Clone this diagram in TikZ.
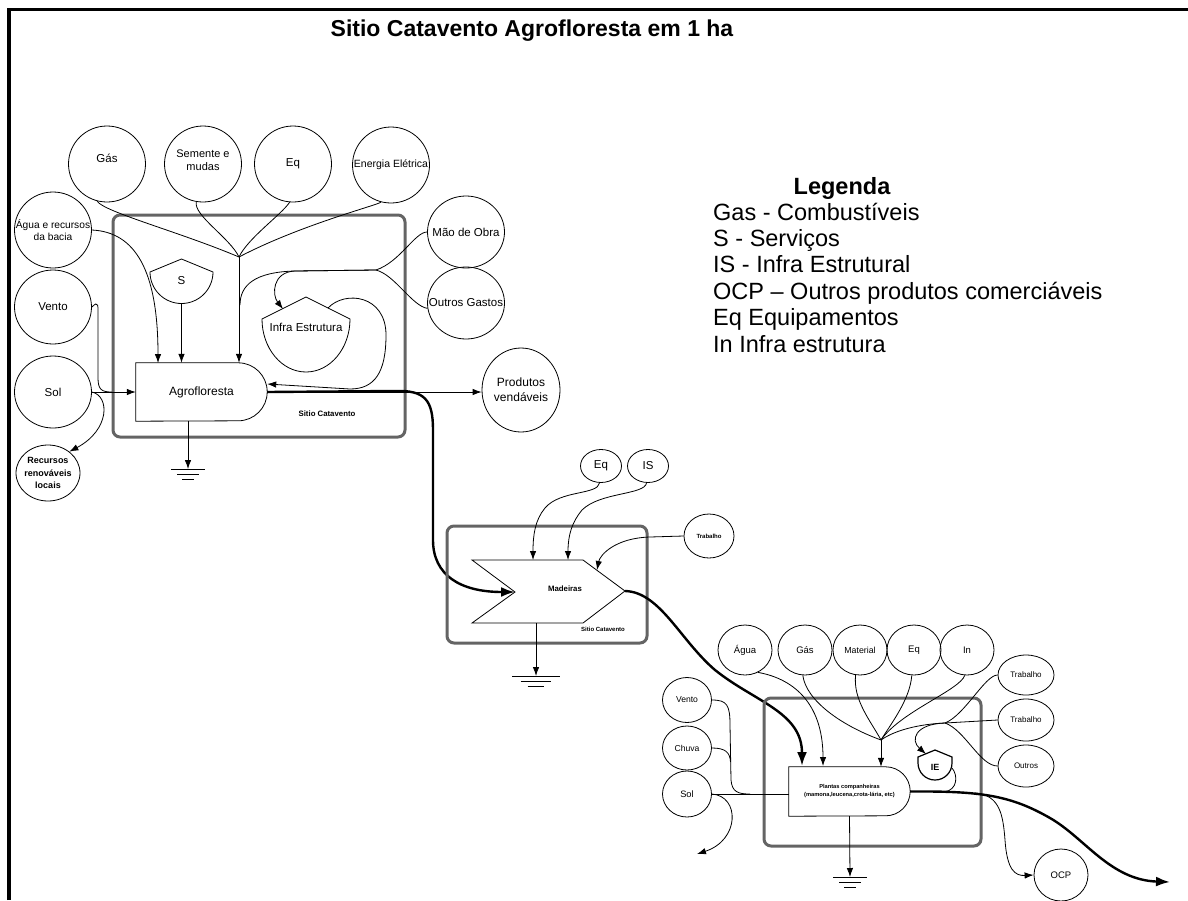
\documentclass[tikz,border=0pt]{standalone}
\usepackage{fontspec}
\setmainfont{Liberation Sans}
\usetikzlibrary{shapes.geometric,arrows.meta,calc}
\definecolor{boxgray}{RGB}{100,100,100}
\newcommand\zt[1]{\makebox[0pt]{#1}}
\tikzset{
  circ/.style={draw, ellipse, inner sep=0pt, line width=0.8pt, align=center, font=\fontsize{11.5}{13}\selectfont},
  cA/.style={circ, minimum width=77pt, minimum height=76pt},
  cB/.style={circ, minimum width=41pt, minimum height=33pt},
  cC/.style={circ, minimum width=54pt, minimum height=50pt, font=\fontsize{9.5}{11}\selectfont},
  cS/.style={circ, minimum width=49pt, minimum height=45pt, font=\fontsize{8.6}{10}\selectfont},
  cR/.style={circ, minimum width=56pt, minimum height=42pt, font=\fontsize{8}{10}\selectfont},
  txt/.style={inner sep=0pt, align=center, font=\fontsize{11.5}{13}\selectfont},
  flow/.style={line width=0.8pt},
  arr/.style={flow, -{Latex[length=9pt,width=6.5pt]}},
  bigflow/.style={line width=2.4pt, -{Latex[length=14pt,width=10pt]}},
  shp/.style={draw, line width=0.8pt},
  sbox/.style={draw=boxgray, line width=3pt, rounded corners=7pt},
  leg/.style={font=\fontsize{23.5}{28}\selectfont, anchor=base west, inner sep=0pt},
  ground/.pic={\draw[line width=0.8pt] (-17,0) -- (17,0) (-11,5) -- (11,5) (-6,10) -- (6,10);}
}
\begin{document}
\begin{tikzpicture}[x=1pt,y=-1pt]
\useasboundingbox (0,0) rectangle (1188,900);
\draw[line width=3.5pt] (9,900) -- (9,9.5) -- (1188,9.5);

% title and legend
\node[font=\fontsize{23}{27}\selectfont\bfseries] (title) at (532,31) {Sitio Catavento Agrofloresta em 1 ha};
\node[font=\fontsize{23.5}{28}\selectfont\bfseries, anchor=base, inner sep=0pt] (legt) at (842,194) {Legenda};
\node[leg] (l1) at (713,220) {Gas - Combustíveis};
\node[leg] (l2) at (713,246.4) {S - Serviços};
\node[leg] (l3) at (713,272.8) {IS - Infra Estrutural};
\node[leg] (l4) at (713,299.2) {OCP – Outros produtos comerciáveis};
\node[leg] (l5) at (713,325.6) {Eq Equipamentos};
\node[leg] (l6) at (713,352) {In Infra estrutura};

% ================= section 1
\draw[sbox] (113,215) rectangle (405,437);
\node[font=\fontsize{7.8}{9}\selectfont\bfseries] (sc1) at (327,414) {Sitio Catavento};

\node[inner sep=0pt, minimum width=131pt, minimum height=58pt, font=\fontsize{12}{14}\selectfont] (agro) at (201.5,392) {Agrofloresta};
\draw[shp] (agro.north west) -- ($(agro.north east)+(-29,0)$) arc[start angle=-90,end angle=90,radius=29] -- (agro.south west) -- cycle;

\draw[shp] (150,272) -- (181.5,259) -- (213,272) arc[start angle=0,end angle=180,radius=31.5] -- cycle;
\node[inner sep=0pt, minimum width=63pt, minimum height=44pt, font=\fontsize{11.5}{13}\selectfont] (sv) at (181.5,281) {S};

\draw[shp] (262,319) -- (306,297) -- (350,319) arc[start angle=0,end angle=180,x radius=44,y radius=53] -- cycle;
\node[inner sep=0pt, font=\fontsize{11.5}{13}\selectfont] (infra) at (306,327) {Infra Estrutura};

\node[cA] (gas1) at (107,164) {};
\node[txt] (gas1t) at (107,158) {Gás};
\node[cA] (sem) at (203,164) {};
\node[txt, font=\fontsize{11}{12.5}\selectfont] (semt) at (203,160) {Semente e\\mudas};
\node[cA] (eq1) at (293,164) {Eq};
\node[cA, font=\fontsize{10.5}{12}\selectfont] (ener) at (391,165) {\zt{Energia Elétrica}};
\node[cA, font=\fontsize{10.2}{12}\selectfont] (agua1) at (53,230) {\zt{Água e recursos}\\\zt{da bacia}};
\node[cA, minimum height=74pt] (vento1) at (53,307) {Vento};
\node[cA, minimum height=72pt] (sol1) at (53,392) {Sol};
\node[circ, minimum width=64pt, minimum height=56pt, font=\fontsize{9}{12.5}\selectfont\bfseries] (rec) at (48,473) {\zt{Recursos}\\\zt{renováveis}\\\zt{locais}};
\node[cA, minimum height=72pt] (mao) at (466,232) {\zt{Mão de Obra}};
\node[cA, minimum height=72pt] (outg) at (466,303) {\zt{Outros Gastos}};
\node[cA, minimum width=78pt, minimum height=84pt, font=\fontsize{12}{15}\selectfont] (prod) at (521,390) {\zt{Produtos}\\\zt{vendáveis}};

\coordinate (J1) at (239,257);
\coordinate (J2) at (376,270);
\coordinate (vm1) at (112,392);

\draw[flow] (gas1.-105) .. controls (104,212) and (180,232) .. (J1);
\draw[flow] (sem.-100) .. controls (193,215) and (230,238) .. (J1);
\draw[flow] (eq1.-95) .. controls (281,215) and (248,238) .. (J1);
\draw[flow] (ener.-105) .. controls (378,205) and (300,225) .. (J1);
\draw[arr] (J1) -- (J1 |- agro.north);
\draw[arr] (agua1.east) .. controls (135,232) and (158,270) .. (158,363);
\draw[arr] (sv.south) -- (sv.south |- agro.north);
\draw[flow] (vento1.east) .. controls (99,300) and (98,305) .. (98,320) -- (98,378) .. controls (98,390) and (102,392) .. (vm1);
\draw[arr] (sol1.east) -- (agro.west);
\draw[arr] (sol1.east) .. controls (110,396) and (110,430) .. (rec.45);
\draw[flow] (mao.west) .. controls (415,232) and (400,262) .. (J2);
\draw[flow] (outg.188) .. controls (412,306) and (395,275) .. (J2);
\draw[flow] (J2) -- (295,271) .. controls (255,272) and (240,285) .. (240,305);
\draw[arr] (J2) -- (295,271) .. controls (272,272) and (272,295) .. (283,309);
\draw[arr] (328,308) .. controls (345,290) and (386,295) .. (386,335) .. controls (386,372) and (375,389) .. (350,389) -- (agro.east |- 0,384);
\draw[arr] (agro.east) -- (agro.east -| prod.west);
\draw[bigflow] (agro.east) -- (395,391) .. controls (425,390) and (433,400) .. (433,430) -- (433,540) .. controls (433,575) and (460,592) .. (515,592);
\draw[arr] (agro.south -| 188,0) -- (188,469);
\pic at (188,469) {ground};

% ================= section 2
\draw[sbox] (447,526) rectangle (647,643);
\node[font=\fontsize{6}{7}\selectfont\bfseries] (sc2) at (603,629) {Sitio Catavento};
\coordinate (madTip) at (625,591);
\coordinate (madNotch) at (515,592);
\draw[shp] (472,560) -- (583,560) -- (madTip) -- (583,623) -- (472,623) -- (madNotch) -- cycle;
\node[font=\fontsize{7.8}{9}\selectfont\bfseries] (madt) at (565,589) {Madeiras};

\node[cB] (eq2) at (601,466) {Eq};
\node[cB] (is2) at (648,466) {IS};
\node[circ, minimum width=50pt, minimum height=44pt, font=\fontsize{6}{7}\selectfont\bfseries] (trab2) at (709,536) {Trabalho};

\draw[arr] (eq2.-95) .. controls (598,495) and (560,490) .. (545,508) .. controls (535,520) and (533,535) .. (533,560);
\draw[arr] (is2.-95) .. controls (645,495) and (600,492) .. (582,510) .. controls (572,522) and (568,535) .. (568,560);
\draw[arr] (trab2.west) -- (650,537) .. controls (615,538) and (600,555) .. (597,570);
\draw[arr] (536,623) -- (536,676);
\pic[xscale=1.4] at (536,676) {ground};
\draw[bigflow] (madTip) .. controls (660,592) and (680,640) .. (715,670) .. controls (755,702) and (802,712) .. (802,766);

% ================= section 3
\draw[sbox] (764,698) rectangle (981,846);
\node[inner sep=0pt, minimum width=121pt, minimum height=49pt, align=center, font=\fontsize{5.7}{8}\selectfont\bfseries] (pla) at (849.5,791.5) {Plantas companheiras\\(mamona,leucena,crota-lária, etc)};
\draw[shp] (pla.north west) -- ($(pla.north east)+(-24.5,0)$) arc[start angle=-90,end angle=90,radius=24.5] -- (pla.south west) -- cycle;

\draw[shp, line width=1.2pt] (918,757) -- (935,750) -- (952,757) -- (952,763) arc[start angle=0,end angle=180,radius=17] -- cycle;
\node[font=\fontsize{9}{10}\selectfont\bfseries, inner sep=0pt] (ie) at (935,767) {IE};

\node[cC] (agua3) at (745,650) {Água};
\node[cC] (gas3) at (805,650) {Gás};
\node[cC, font=\fontsize{8.8}{10}\selectfont] (mat) at (860,650) {Material};
\node[cC] (eq3) at (914,650) {Eq};
\node[cC] (in3) at (967,650) {In};
\node[cR, minimum height=40pt] (trabA) at (1026,675) {Trabalho};
\node[cR] (trabB) at (1026,720) {Trabalho};
\node[cR] (outr) at (1026,766) {Outros};
\node[cC, minimum height=52pt] (ocp) at (1061,875) {OCP};
\node[cS] (vento3) at (687,700) {Vento};
\node[cS, minimum height=44pt] (chuva) at (687,748) {Chuva};
\node[cS, minimum height=46pt, font=\fontsize{9.3}{10}\selectfont] (sol3) at (687,794) {Sol};

\coordinate (J3) at (881,740);
\coordinate (J4) at (945,723);
\coordinate (vm3) at (750,794);
\coordinate (solOut) at (697,854);
\coordinate (ieMerge) at (944,792);
\coordinate (ocpFork) at (975,793);
\coordinate (outEnd) at (1170,882);

\draw[flow] (gas3.-95) .. controls (806,700) and (840,725) .. (J3);
\draw[flow] (mat.-100) .. controls (853,700) and (870,720) .. (J3);
\draw[flow] (eq3.-95) .. controls (910,700) and (890,725) .. (J3);
\draw[flow] (in3.-95) .. controls (960,690) and (900,712) .. (J3);
\draw[arr] (J3) -- (J3 |- pla.north);
\draw[flow] (trabA.west) .. controls (985,675) and (965,715) .. (J4);
\draw[flow] (trabB.west) -- (J4);
\draw[flow] (outr.west) .. controls (980,766) and (965,730) .. (J4);
\draw[flow] (J4) .. controls (920,724) and (895,730) .. (J3);
\draw[arr] (J4) .. controls (915,724) and (910,740) .. (926,754);
\draw[arr] (agua3.-60) .. controls (790,678) and (823,700) .. (823,766);
\draw[flow] (vento3.east) .. controls (727,700) and (730,705) .. (730,725) -- (731,780) .. controls (732,792) and (738,794) .. (vm3);
\draw[flow] (chuva.east) .. controls (725,748) and (730,752) .. (730.5,762);
\draw[flow] (sol3.east) -- (sol3.east -| pla.west);
\draw[arr] (sol3.east) .. controls (740,796) and (740,840) .. (solOut);
\draw[arr] (pla.south) -- (850,877);
\pic at (850,877) {ground};
\draw[flow] (952,768) .. controls (958,775) and (958,790) .. (ieMerge);
\draw[arr] (ocpFork) .. controls (1000,795) and (1003,815) .. (1005,840) .. controls (1007,870) and (1015,876) .. (ocp.west);
\draw[bigflow] (pla.east) .. controls (980,791) and (1010,795) .. (1050,818) .. controls (1085,838) and (1110,880) .. (outEnd);
\end{tikzpicture}
\end{document}
